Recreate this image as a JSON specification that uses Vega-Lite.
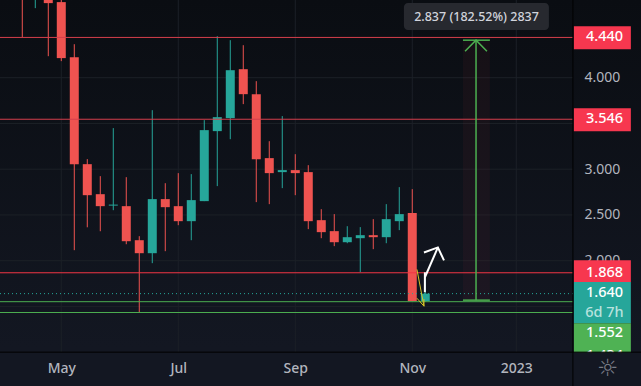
{
"$schema":"https://vega.github.io/schema/vega-lite/v6.json",
"width":641,"height":386,"padding":0,"autosize":{"type":"none"},
"background":"#131722",
"view":{"stroke":null,"fill":{"gradient":"linear","x1":0,"y1":0,"x2":0,"y2":1,"stops":[{"offset":0,"color":"#0a0d12"},{"offset":0.9,"color":"#131722"},{"offset":1,"color":"#131722"}]}},
"config":{"axis":{"labelFont":"Noto Sans","labelFontSize":14,"labelColor":"#b2b5be","domain":false,"ticks":false,"grid":false,"title":null}},
"resolve":{"scale":{"color":"independent"}},
"encoding":{
"x":{"type":"temporal","title":null,"scale":{"type":"utc","nice":false,"padding":0,"domain":["2022-03-30T00:00:00Z","2023-03-10T04:00:00Z"]},
"axis":{"values":["2022-05-02T00:00:00Z","2022-07-04T00:00:00Z","2022-09-05T00:00:00Z","2022-11-07T00:00:00Z","2023-01-02T00:00:00Z"],"labelExpr":"utcmonth(datum.value)==0?utcFormat(datum.value,'%Y'):utcFormat(datum.value,'%b')","orient":"bottom","offset":-34,"labelPadding":9,"labelFlush":false,"labelOverlap":false,"zindex":1,"labelFontWeight":500}},
"y":{"type":"quantitative","title":null,"scale":{"domain":[0.6306,4.8491],"nice":false,"zero":false,"padding":0},
"axis":{"values":[2,2.5,3,3.5,4],"format":".3f","orient":"right","offset":-68,"labelPadding":11,"labelAlign":"left","labelOverlap":false,"zindex":0}}
},
"datasets":{
"candles":[
{"date":"2022-04-11","open":5.0,"high":5.1,"low":4.443,"close":4.9},
{"date":"2022-04-18","open":4.9,"high":5.1,"low":4.76,"close":5.0},
{"date":"2022-04-25","open":4.95,"high":5.0,"low":4.235,"close":4.815},
{"date":"2022-05-02","open":4.826,"high":4.9,"low":4.181,"close":4.214},
{"date":"2022-05-09","open":4.224,"high":4.366,"low":2.115,"close":3.055},
{"date":"2022-05-16","open":3.055,"high":3.11,"low":2.365,"close":2.716},
{"date":"2022-05-23","open":2.727,"high":2.924,"low":2.322,"close":2.596},
{"date":"2022-05-30","open":2.602,"high":3.449,"low":2.552,"close":2.613},
{"date":"2022-06-06","open":2.596,"high":2.913,"low":2.18,"close":2.213},
{"date":"2022-06-13","open":2.224,"high":2.268,"low":1.434,"close":2.082},
{"date":"2022-06-20","open":2.082,"high":3.645,"low":1.973,"close":2.673},
{"date":"2022-06-27","open":2.673,"high":2.847,"low":2.104,"close":2.585},
{"date":"2022-07-04","open":2.596,"high":2.957,"low":2.388,"close":2.432},
{"date":"2022-07-11","open":2.432,"high":2.946,"low":2.224,"close":2.662},
{"date":"2022-07-18","open":2.651,"high":3.536,"low":2.651,"close":3.427},
{"date":"2022-07-25","open":3.416,"high":4.454,"low":2.815,"close":3.569},
{"date":"2022-08-01","open":3.558,"high":4.41,"low":3.328,"close":4.082},
{"date":"2022-08-08","open":4.093,"high":4.355,"low":3.711,"close":3.82},
{"date":"2022-08-15","open":3.82,"high":3.962,"low":2.64,"close":3.11},
{"date":"2022-08-22","open":3.121,"high":3.306,"low":2.618,"close":2.957},
{"date":"2022-08-29","open":2.968,"high":3.58,"low":2.793,"close":2.99},
{"date":"2022-09-05","open":2.99,"high":3.164,"low":2.716,"close":2.957},
{"date":"2022-09-12","open":2.968,"high":3.044,"low":2.345,"close":2.432},
{"date":"2022-09-19","open":2.443,"high":2.563,"low":2.246,"close":2.312},
{"date":"2022-09-26","open":2.323,"high":2.509,"low":2.159,"close":2.202},
{"date":"2022-10-03","open":2.202,"high":2.377,"low":2.191,"close":2.257},
{"date":"2022-10-10","open":2.246,"high":2.367,"low":1.875,"close":2.279},
{"date":"2022-10-17","open":2.279,"high":2.454,"low":2.126,"close":2.257},
{"date":"2022-10-24","open":2.257,"high":2.618,"low":2.191,"close":2.454},
{"date":"2022-10-31","open":2.432,"high":2.804,"low":2.334,"close":2.509},
{"date":"2022-11-07","open":2.52,"high":2.782,"low":1.558,"close":1.558},
{"date":"2022-11-14","open":1.558,"high":1.86,"low":1.55,"close":1.64}
]},
"layer":[
{"data":{"values":[
{"a":"2022-03-30","b":"2023-02-01T12:00:00Z","p":4,"q":4},
{"a":"2022-03-30","b":"2023-02-01T12:00:00Z","p":3.5,"q":3.5},
{"a":"2022-03-30","b":"2023-02-01T12:00:00Z","p":3,"q":3},
{"a":"2022-03-30","b":"2023-02-01T12:00:00Z","p":2.5,"q":2.5},
{"a":"2022-03-30","b":"2023-02-01T12:00:00Z","p":2,"q":2},
{"a":"2022-03-30","b":"2023-02-01T12:00:00Z","p":1.5,"q":1.5},
{"a":"2022-05-02","b":"2022-05-02","p":4.8491,"q":1.0},
{"a":"2022-07-04","b":"2022-07-04","p":4.8491,"q":1.0},
{"a":"2022-09-05","b":"2022-09-05","p":4.8491,"q":1.0},
{"a":"2022-11-07","b":"2022-11-07","p":4.8491,"q":1.0},
{"a":"2023-01-02","b":"2023-01-02","p":4.8491,"q":1.0}
]},
"mark":{"type":"rule","color":"#1c2027","strokeWidth":1},
"encoding":{"x":{"field":"a"},"x2":{"field":"b"},"y":{"field":"p"},"y2":{"field":"q"}}},
{"data":{"values":[{"a":"2022-12-04T07:00:00Z","b":"2022-12-18T19:00:00Z","p":4.41,"q":1.569}]},
"mark":{"type":"rect","color":"#f23645","opacity":0.05},
"encoding":{"x":{"field":"a"},"x2":{"field":"b"},"y":{"field":"p"},"y2":{"field":"q"}}},
{"data":{"name":"candles"},
"mark":{"type":"rule","size":1,"clip":true},
"encoding":{"x":{"field":"date"},"y":{"field":"low"},"y2":{"field":"high"},
"color":{"condition":{"test":"datum.close>datum.open","value":"#26a69a"},"value":"#ef5350"}}},
{"data":{"name":"candles"},
"mark":{"type":"bar","size":9,"clip":true},
"encoding":{"x":{"field":"date"},"y":{"field":"open"},"y2":{"field":"close"},
"color":{"condition":{"test":"datum.close>datum.open","value":"#26a69a"},"value":"#ef5350"}}},
{"data":{"values":[
{"a":"2022-03-30","b":"2023-02-01T12:00:00Z","p":4.44,"level":"r"},
{"a":"2022-03-30","b":"2023-02-01T12:00:00Z","p":3.546,"level":"r"},
{"a":"2022-03-30","b":"2023-02-01T12:00:00Z","p":1.868,"level":"s"},
{"a":"2022-03-30","b":"2023-02-01T12:00:00Z","p":1.552,"level":"g"},
{"a":"2022-03-30","b":"2023-02-01T12:00:00Z","p":1.434,"level":"g"}
]},
"mark":{"type":"rule","strokeWidth":1},
"encoding":{"x":{"field":"a"},"x2":{"field":"b"},"y":{"field":"p"},
"color":{"field":"level","type":"nominal","legend":null,"scale":{"domain":["r","s","g"],"range":["#d63f4c","#f23645","#4caf50"]}}}},
{"data":{"values":[{"a":"2022-03-30","b":"2023-02-01T12:00:00Z","p":1.64}]},
"mark":{"type":"rule","strokeWidth":1,"color":"#26a69a","strokeDash":[1,3]},
"encoding":{"x":{"field":"a"},"x2":{"field":"b"},"y":{"field":"p"}}},
{"data":{"values":[
{"s":"stem","n":1,"t":"2022-12-11T08:00:00Z","p":1.569},{"s":"stem","n":2,"t":"2022-12-11T08:00:00Z","p":4.41},
{"s":"top","n":1,"t":"2022-12-04T07:00:00Z","p":4.41},{"s":"top","n":2,"t":"2022-12-18T19:00:00Z","p":4.41},
{"s":"base","n":1,"t":"2022-12-04T07:00:00Z","p":1.569},{"s":"base","n":2,"t":"2022-12-18T19:00:00Z","p":1.569},
{"s":"head","n":1,"t":"2022-12-05T10:00:00Z","p":4.29},{"s":"head","n":2,"t":"2022-12-11T08:00:00Z","p":4.41},{"s":"head","n":3,"t":"2022-12-17T05:00:00Z","p":4.29}
]},
"mark":{"type":"line","color":"#4caf50","strokeWidth":1.5},
"encoding":{"x":{"field":"t"},"y":{"field":"p"},"detail":{"field":"s"},"order":{"field":"n"}}},
{"data":{"values":[
{"s":"fib","n":1,"t":"2022-11-09T12:00:00Z","p":1.905},{"s":"fib","n":2,"t":"2022-11-13T07:00:00Z","p":1.503},{"s":"fib","n":3,"t":"2022-11-09T12:00:00Z","p":1.59},
{"s":"fib2","n":1,"t":"2022-11-13T07:00:00Z","p":1.503},{"s":"fib2","n":2,"t":"2022-11-13T07:00:00Z","p":1.58}
]},
"mark":{"type":"line","color":"#d8c528","strokeWidth":1},
"encoding":{"x":{"field":"t"},"y":{"field":"p"},"detail":{"field":"s"},"order":{"field":"n"}}},
{"data":{"values":[
{"s":"bar","n":1,"t":"2022-11-13T19:00:00Z","p":1.655},{"s":"bar","n":2,"t":"2022-11-13T19:00:00Z","p":1.873},
{"s":"shaft","n":1,"t":"2022-11-13T19:00:00Z","p":1.819},{"s":"shaft","n":2,"t":"2022-11-20T19:00:00Z","p":2.145},
{"s":"wing","n":1,"t":"2022-11-13T07:00:00Z","p":2.09},{"s":"wing","n":2,"t":"2022-11-20T19:00:00Z","p":2.145},{"s":"wing","n":3,"t":"2022-11-24T02:00:00Z","p":2.003}
]},
"mark":{"type":"line","color":"#ffffff","strokeWidth":2},
"encoding":{"x":{"field":"t"},"y":{"field":"p"},"detail":{"field":"s"},"order":{"field":"n"}}},
{"data":{"values":[
{"a":"2023-02-02T00:00:00Z","b":"2023-03-04T17:00:00Z","p":4.563,"q":4.311,"tag":"red"},
{"a":"2023-02-02T00:00:00Z","b":"2023-03-04T17:00:00Z","p":3.667,"q":3.416,"tag":"red"},
{"a":"2023-02-02T00:00:00Z","b":"2023-03-04T17:00:00Z","p":2.006,"q":1.766,"tag":"red"},
{"a":"2023-02-02T00:00:00Z","b":"2023-03-04T17:00:00Z","p":1.766,"q":1.317,"tag":"teal"},
{"a":"2023-02-02T00:00:00Z","b":"2023-03-04T17:00:00Z","p":1.317,"q":0.95,"tag":"green"}
]},
"mark":{"type":"rect"},
"encoding":{"x":{"field":"a"},"x2":{"field":"b"},"y":{"field":"p"},"y2":{"field":"q"},
"color":{"field":"tag","type":"nominal","legend":null,"scale":{"domain":["red","teal","green"],"range":["#f7374f","#26a69a","#4fb254"]}}}},
{"data":{"values":[
{"t":"2023-02-18T12:00:00Z","p":4.44,"label":"4.440"},
{"t":"2023-02-18T12:00:00Z","p":3.546,"label":"3.546"},
{"t":"2023-02-18T12:00:00Z","p":1.868,"label":"1.868"},
{"t":"2023-02-18T12:00:00Z","p":1.645,"label":"1.640"},
{"t":"2023-02-18T12:00:00Z","p":1.43,"label":"6d 7h"},
{"t":"2023-02-18T12:00:00Z","p":1.208,"label":"1.552"},
{"t":"2023-02-18T12:00:00Z","p":0.957,"label":"1.434"}
]},
"mark":{"type":"text","font":"Noto Sans","fontSize":14.5,"fontWeight":500,"align":"center","baseline":"middle"},
"encoding":{"x":{"field":"t"},"y":{"field":"p"},"text":{"field":"label"},
"color":{"condition":{"test":"datum.label=='6d 7h'","value":"#b8e2de"},"value":"#ffffff"}}},
{"data":{"values":[{"a":"2022-03-30","b":"2023-03-10T04:00:00Z","p":1.0005,"q":0.6306}]},
"mark":{"type":"rect","color":"#131722"},
"encoding":{"x":{"field":"a"},"x2":{"field":"b"},"y":{"field":"p"},"y2":{"field":"q"}}},
{"data":{"values":[
{"a":"2022-03-30","b":"2023-03-10T04:00:00Z","p":1.0005,"q":1.0005},
{"a":"2023-02-01T12:00:00Z","b":"2023-02-01T12:00:00Z","p":4.8491,"q":0.6306}
]},
"mark":{"type":"rule","color":"#000000","strokeWidth":1},
"encoding":{"x":{"field":"a"},"x2":{"field":"b"},"y":{"field":"p"},"y2":{"field":"q"}}},
{"data":{"values":[{"t":"2023-02-20T07:00:00Z","p":0.815,"label":"☼"}]},
"mark":{"type":"text","font":"DejaVu Sans","fontSize":24,"color":"#787b86","align":"center","baseline":"middle"},
"encoding":{"x":{"field":"t"},"y":{"field":"p"},"text":{"field":"label"}}},
{"data":{"values":[{"a":"2022-11-02T12:00:00Z","b":"2023-01-19T14:00:00Z","p":4.815,"q":4.52}]},
"mark":{"type":"rect","color":"#27292f","cornerRadius":4},
"encoding":{"x":{"field":"a"},"x2":{"field":"b"},"y":{"field":"p"},"y2":{"field":"q"}}},
{"data":{"values":[{"t":"2022-12-11T14:00:00Z","p":4.662,"label":"2.837 (182.52%) 2837"}]},
"mark":{"type":"text","font":"Noto Sans","fontSize":12.5,"fontWeight":500,"color":"#d1d4dc","align":"center","baseline":"middle"},
"encoding":{"x":{"field":"t"},"y":{"field":"p"},"text":{"field":"label"}}}
]
}
